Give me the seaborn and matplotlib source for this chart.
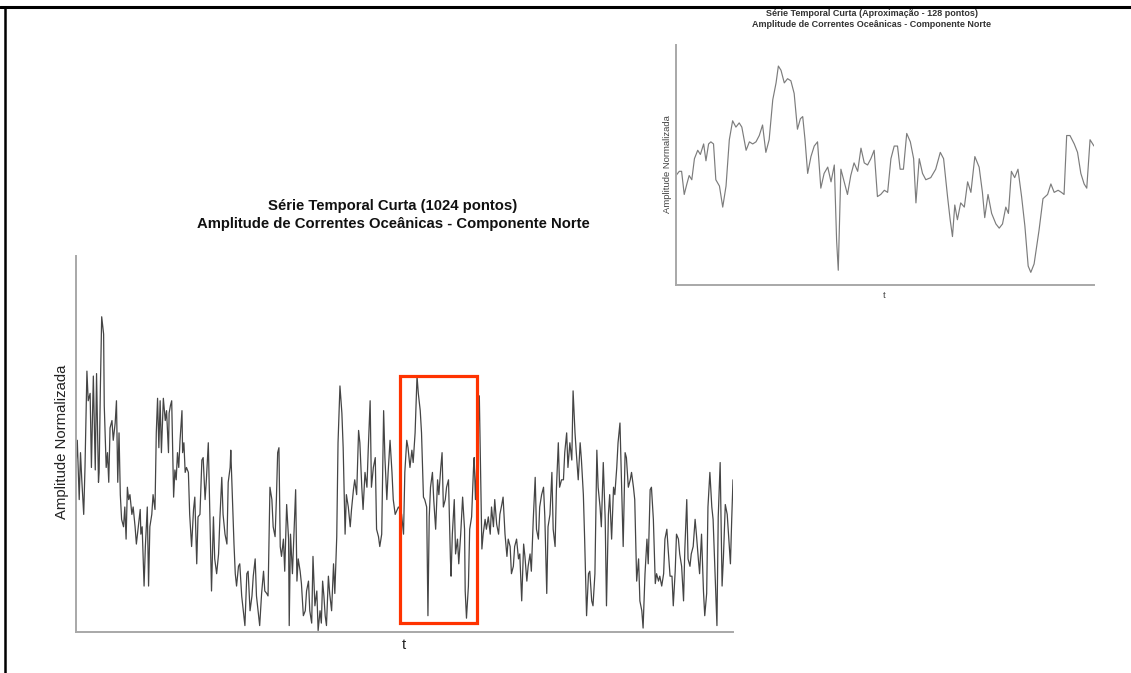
import matplotlib
matplotlib.use("Agg")
import matplotlib.pyplot as plt
from matplotlib.patches import Rectangle
from matplotlib.lines import Line2D
import numpy as np
import seaborn as sns

# Série completa (1024 amostras) - instantes e amplitude normalizada
t_serie = [
    0, 2, 5, 7, 9, 12, 14, 17, 19, 22,
    24, 27, 30, 32, 35, 36, 38, 40, 43, 44,
    47, 49, 51, 53, 56, 58, 61, 63, 65, 67,
    69, 71, 74, 76, 78, 80, 82, 84, 87, 89,
    92, 94, 97, 100, 101, 103, 106, 108, 111, 113,
    115, 118, 120, 123, 125, 127, 129, 131, 133, 136,
    139, 141, 144, 145, 147, 149, 152, 154, 156, 158,
    160, 162, 165, 166, 168, 170, 172, 175, 177, 180,
    183, 185, 188, 190, 193, 196, 198, 201, 203, 206,
    209, 211, 214, 216, 219, 222, 224, 227, 229, 232,
    235, 237, 240, 241, 243, 246, 248, 250, 253, 255,
    258, 261, 263, 266, 268, 271, 274, 276, 279, 281,
    284, 286, 289, 292, 294, 297, 299, 302, 305, 307,
    310, 312, 314, 316, 318, 320, 323, 325, 328, 331,
    332, 334, 337, 339, 342, 344, 346, 349, 351, 354,
    357, 359, 362, 364, 367, 369, 372, 375, 377, 380,
    382, 384, 386, 388, 390, 393, 395, 398, 401, 403,
    406, 408, 411, 414, 416, 419, 421, 424, 427, 429,
    432, 434, 437, 440, 442, 445, 447, 450, 453, 455,
    458, 460, 463, 466, 468, 471, 473, 476, 479, 481,
    484, 486, 489, 492, 494, 497, 502, 505, 507, 510,
    512, 515, 517, 520, 523, 525, 528, 531, 533, 536,
    538, 541, 543, 546, 548, 550, 552, 555, 557, 560,
    563, 565, 568, 570, 572, 575, 577, 580, 583, 584,
    586, 589, 591, 594, 596, 599, 602, 605, 606, 608,
    611, 613, 616, 619, 620, 622, 628, 629, 632, 634,
    637, 639, 642, 645, 647, 650, 652, 655, 658, 660,
    663, 665, 668, 671, 673, 676, 678, 681, 683, 686,
    689, 691, 694, 697, 699, 702, 704, 707, 709, 712,
    715, 717, 720, 722, 725, 728, 730, 733, 735, 738,
    741, 743, 746, 748, 751, 753, 756, 759, 761, 764,
    766, 769, 772, 774, 777, 779, 782, 785, 787, 790,
    792, 795, 798, 800, 803, 805, 808, 811, 813, 816,
    818, 821, 824, 826, 829, 831, 834, 837, 839, 842,
    844, 847, 850, 852, 855, 857, 860, 863, 865, 868,
    870, 873, 876, 878, 881, 883, 886, 889, 891, 894,
    896, 899, 902, 904, 907, 909, 912, 915, 917, 920,
    922, 925, 928, 930, 933, 935, 938, 940, 943, 946,
    948, 951, 953, 956, 958, 961, 964, 966, 969, 971,
    974, 977, 979, 982, 984, 987, 990, 992, 995, 998,
    1000, 1003, 1006, 1008, 1011, 1014, 1016, 1019, 1021, 1023,
]
amp_serie = [
    0.63, 0.74, 0.50, 0.69, 0.58, 0.44, 0.63, 1.02, 0.90, 0.93,
    0.63, 1.00, 0.62, 1.01, 0.57, 0.61, 0.96, 1.24, 1.17, 0.88,
    0.63, 0.69, 0.57, 0.79, 0.82, 0.74, 0.81, 0.90, 0.57, 0.77,
    0.52, 0.42, 0.39, 0.47, 0.34, 0.55, 0.50, 0.52, 0.44, 0.47,
    0.39, 0.32, 0.39, 0.46, 0.36, 0.39, 0.15, 0.31, 0.47, 0.15,
    0.39, 0.44, 0.52, 0.46, 0.77, 0.91, 0.71, 0.90, 0.69, 0.91,
    0.82, 0.86, 0.69, 0.85, 0.88, 0.90, 0.51, 0.62, 0.58, 0.69,
    0.63, 0.74, 0.86, 0.69, 0.73, 0.61, 0.63, 0.61, 0.44, 0.31,
    0.46, 0.51, 0.24, 0.43, 0.44, 0.66, 0.67, 0.50, 0.58, 0.73,
    0.36, 0.13, 0.43, 0.26, 0.20, 0.28, 0.42, 0.59, 0.44, 0.36,
    0.32, 0.57, 0.63, 0.70, 0.55, 0.32, 0.20, 0.15, 0.23, 0.24,
    0.11, 0.04, -0.01, 0.20, 0.21, 0.05, 0.11, 0.19, 0.26, 0.11,
    0.04, -0.01, 0.12, 0.21, 0.13, 0.12, 0.11, 0.55, 0.50, 0.39,
    0.35, 0.50, 0.69, 0.71, 0.31, 0.27, 0.34, 0.21, 0.48, 0.34,
    -0.01, 0.36, 0.20, 0.34, 0.54, 0.17, 0.26, 0.21, 0.16, 0.03,
    0.05, 0.13, 0.17, 0.05, 0.00, 0.27, 0.07, 0.13, -0.03, 0.05,
    0.00, 0.17, 0.11, 0.03, -0.01, 0.19, 0.12, 0.05, 0.24, 0.12,
    0.35, 0.73, 0.96, 0.85, 0.71, 0.36, 0.52, 0.47, 0.39, 0.46,
    0.54, 0.58, 0.52, 0.78, 0.73, 0.55, 0.46, 0.61, 0.55, 0.70,
    0.90, 0.55, 0.63, 0.67, 0.38, 0.35, 0.31, 0.36, 0.86, 0.67,
    0.50, 0.61, 0.74, 0.61, 0.50, 0.44, 0.47, 0.46, 0.44, 0.36,
    0.61, 0.74, 0.71, 0.63, 0.70, 0.65, 0.77, 1.00, 0.93, 0.86,
    0.77, 0.51, 0.50, 0.47, 0.03, 0.43, 0.55, 0.61, 0.50, 0.38,
    0.58, 0.52, 0.63, 0.69, 0.47, 0.50, 0.55, 0.58, 0.26, 0.19,
    0.36, 0.50, 0.28, 0.34, 0.24, 0.36, 0.51, 0.38, 0.13, 0.02,
    0.15, 0.38, 0.43, 0.63, 0.67, 0.50, 0.92, 0.77, 0.30, 0.36,
    0.42, 0.38, 0.43, 0.36, 0.47, 0.39, 0.50, 0.40, 0.36, 0.44,
    0.48, 0.51, 0.36, 0.27, 0.34, 0.31, 0.20, 0.23, 0.31, 0.34,
    0.26, 0.28, 0.09, 0.32, 0.27, 0.17, 0.23, 0.28, 0.21, 0.42,
    0.59, 0.38, 0.34, 0.47, 0.52, 0.55, 0.43, 0.12, 0.39, 0.44,
    0.61, 0.38, 0.31, 0.54, 0.73, 0.55, 0.58, 0.58, 0.69, 0.77,
    0.63, 0.73, 0.66, 0.94, 0.77, 0.69, 0.58, 0.73, 0.66, 0.52,
    0.34, 0.03, 0.20, 0.21, 0.09, 0.07, 0.20, 0.70, 0.55, 0.47,
    0.39, 0.65, 0.42, 0.07, 0.44, 0.52, 0.34, 0.55, 0.52, 0.63,
    0.73, 0.81, 0.50, 0.31, 0.69, 0.67, 0.55, 0.58, 0.61, 0.55,
    0.50, 0.17, 0.26, 0.09, 0.05, -0.02, 0.20, 0.34, 0.24, 0.54,
    0.55, 0.42, 0.16, 0.20, 0.17, 0.19, 0.15, 0.20, 0.34, 0.38,
    0.30, 0.19, 0.19, 0.07, 0.21, 0.36, 0.34, 0.28, 0.23, 0.09,
    0.30, 0.50, 0.26, 0.23, 0.28, 0.31, 0.42, 0.36, 0.26, 0.20,
    0.36, 0.13, 0.03, 0.12, 0.47, 0.61, 0.47, 0.42, 0.20, -0.01,
    0.43, 0.65, 0.15, 0.26, 0.48, 0.44, 0.36, 0.24, 0.42, 0.58,
]

# Aproximação de 128 pontos do trecho destacado
t_aprox = [
    0, 1.0, 1.7, 2.5, 3.3, 4.0, 4.8, 5.6, 6.6, 7.4,
    8.4, 9.1, 9.9, 10.6, 11.4, 12.1, 13.2, 14.2, 15.2, 16.2,
    17.2, 18.2, 19.2, 20.0, 21.3, 22.3, 23.3, 24.3, 25.3, 26.3,
    27.3, 28.3, 29.4, 30.4, 31.1, 31.9, 32.9, 33.9, 34.9, 35.9,
    36.9, 37.8, 38.5, 39.2, 40.0, 41.0, 42.0, 43.0, 44.0, 45.0,
    46.1, 47.1, 48.1, 48.8, 49.3, 50.1, 51.1, 52.1, 53.1, 54.1,
    55.2, 56.2, 57.2, 58.2, 59.2, 60.2, 61.2, 62.2, 63.3, 64.3,
    65.3, 66.3, 67.3, 68.1, 69.1, 70.1, 71.2, 72.2, 72.9, 73.9,
    74.9, 75.9, 77.4, 78.9, 80.3, 81.3, 82.5, 83.3, 84.0, 84.7,
    85.5, 86.5, 87.6, 88.6, 89.6, 90.8, 92.1, 93.1, 93.8, 94.8,
    95.9, 97.2, 98.2, 99.2, 100.2, 101.0, 101.9, 102.9, 103.9, 105.0,
    106.0, 107.0, 107.8, 108.8, 110.3, 111.5, 112.9, 113.9, 114.9, 116.1,
    117.1, 117.9, 118.7, 119.7, 121.0, 122.0, 123.0, 124.0, 124.8, 125.8,
    127.0,
]
amp_aprox = [
    0.48, 0.50, 0.50, 0.39, 0.44, 0.48, 0.46, 0.56, 0.60, 0.58,
    0.63, 0.55, 0.63, 0.64, 0.63, 0.46, 0.43, 0.33, 0.43, 0.65,
    0.74, 0.71, 0.73, 0.71, 0.60, 0.64, 0.63, 0.64, 0.67, 0.72,
    0.59, 0.65, 0.84, 0.92, 1.00, 0.98, 0.92, 0.94, 0.93, 0.87,
    0.70, 0.75, 0.76, 0.65, 0.49, 0.57, 0.62, 0.64, 0.42, 0.49,
    0.52, 0.45, 0.53, 0.17, 0.03, 0.51, 0.45, 0.39, 0.48, 0.54,
    0.50, 0.61, 0.54, 0.53, 0.56, 0.60, 0.38, 0.39, 0.41, 0.40,
    0.56, 0.62, 0.62, 0.51, 0.51, 0.68, 0.64, 0.56, 0.35, 0.56,
    0.49, 0.46, 0.47, 0.51, 0.59, 0.56, 0.38, 0.27, 0.19, 0.34,
    0.27, 0.35, 0.33, 0.45, 0.40, 0.57, 0.52, 0.40, 0.28, 0.39,
    0.30, 0.25, 0.23, 0.25, 0.33, 0.30, 0.50, 0.47, 0.51, 0.38,
    0.24, 0.05, 0.02, 0.06, 0.22, 0.37, 0.39, 0.44, 0.40, 0.41,
    0.40, 0.39, 0.67, 0.67, 0.63, 0.59, 0.49, 0.44, 0.42, 0.65,
    0.62,
]

# Trecho destacado na série completa (índices inicial e final)
janela = [505, 624]

titulo_serie = "Série Temporal Curta (1024 pontos)\nAmplitude de Correntes Oceânicas - Componente Norte"
titulo_aprox = "Série Temporal Curta (Aproximação - 128 pontos)\nAmplitude de Correntes Oceânicas - Componente Norte"
rotulo_y = "Amplitude Normalizada"
rotulo_x = "t"

sns.set_theme(style="white")
plt.rcParams["font.family"] = ["Liberation Sans", "DejaVu Sans"]

W, H = 1131, 673
fig = plt.figure(figsize=(W / 100, H / 100), dpi=100)
fig.patch.set_facecolor("white")


def fx(px):
    return px / W


def fy(py):
    return 1 - py / H


def style_axes(a):
    a.set_xticks([])
    a.set_yticks([])
    a.set_xlabel("")
    a.set_ylabel("")
    for s in ("top", "right"):
        a.spines[s].set_visible(False)
    for s in ("left", "bottom"):
        a.spines[s].set_color("#a8a8a8")
        a.spines[s].set_linewidth(1.4)
    a.set_facecolor("white")


# Série completa
ax = fig.add_axes([fx(76), fy(632), fx(733) - fx(76), fy(256) - fy(632)])
sns.lineplot(x=t_serie, y=amp_serie, ax=ax, color="#454545", linewidth=0.9, sort=False)
ax.set_xlim(0, 1023)
ax.set_ylim(-0.036, 1.486)
style_axes(ax)

t_arr = np.array(t_serie)
a_arr = np.array(amp_serie)
sel = (t_arr >= janela[0]) & (t_arr <= janela[1])
y_lo, y_hi = a_arr[sel].min(), a_arr[sel].max()
ax.add_patch(Rectangle((janela[0], y_lo - 0.018), janela[1] - janela[0],
                       (y_hi - y_lo) + 0.018, fill=False, edgecolor="#ff3300",
                       linewidth=2.3, zorder=5, clip_on=False))

fig.text(fx(393), fy(215), titulo_serie, ha="center", va="center",
         fontsize=10.7, fontweight="bold", linespacing=1.3, color="#111111")
fig.text(fx(62), fy(442), rotulo_y, ha="center", va="center", rotation=90,
         fontsize=10.7, color="#222222")
fig.text(fx(404), fy(645), rotulo_x, ha="center", va="center",
         fontsize=10.7, color="#222222")

# Aproximação de 128 pontos
axi = fig.add_axes([fx(676), fy(285), fx(1094) - fx(676), fy(45) - fy(285)])
sns.lineplot(x=t_aprox, y=amp_aprox, ax=axi, color="#7c7c7c", linewidth=0.85, sort=False)
axi.set_xlim(0, 127)
axi.set_ylim(-0.04, 1.10)
style_axes(axi)

fig.text(fx(872), fy(19), titulo_aprox, ha="center", va="center",
         fontsize=6.5, fontweight="bold", linespacing=1.25, color="#333333")
fig.text(fx(667), fy(164), rotulo_y, ha="center", va="center", rotation=90,
         fontsize=6.8, color="#444444")
fig.text(fx(884), fy(295), rotulo_x, ha="center", va="center",
         fontsize=6.8, color="#444444")

# Moldura superior e lateral esquerda
fig.add_artist(Line2D([0, 1], [fy(7), fy(7)], transform=fig.transFigure,
                      color="black", linewidth=2.2))
fig.add_artist(Line2D([fx(5), fx(5)], [0, fy(7)], transform=fig.transFigure,
                      color="black", linewidth=1.8))

fig.savefig("out.png", dpi=100, facecolor="white")
